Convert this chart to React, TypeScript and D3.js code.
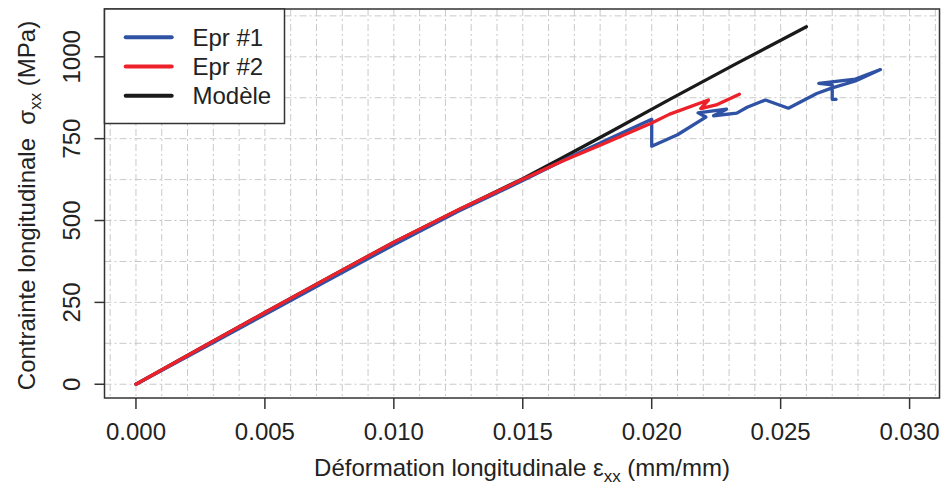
import React from "react";
import * as d3 from "d3";

// ---- Data ----
const modelStrain = [0, 0.0025, 0.005, 0.0075, 0.01, 0.0125, 0.015, 0.0165, 0.0185, 0.0207, 0.0233, 0.026];
const modelStress = [0, 110, 219, 327, 434, 532, 628, 690, 775, 870, 980, 1092];

const epr1Strain = [0, 0.0025, 0.005, 0.0075, 0.01, 0.0125, 0.015, 0.017, 0.0185, 0.02, 0.02, 0.021, 0.0221, 0.0218, 0.0229, 0.0224, 0.0233, 0.0237, 0.02441, 0.0253, 0.0264, 0.027, 0.0279, 0.02887, 0.0279, 0.02648, 0.027, 0.027, 0.02715];
const epr1Stress = [0, 106, 213, 320, 426, 528, 622, 700, 755, 809, 727, 762, 816, 829, 840, 820, 828, 846, 868, 843, 888, 905, 926, 961, 932, 919, 914, 870, 870];

const epr2Strain = [0, 0.0025, 0.005, 0.0075, 0.01, 0.0125, 0.015, 0.0165, 0.018, 0.02, 0.0207, 0.0222, 0.0219, 0.0225, 0.0234];
const epr2Stress = [0, 110, 219, 327, 434, 533, 626, 680, 730, 798, 825, 868, 842, 853, 886];

const xTicks = [0, 0.005, 0.01, 0.015, 0.02, 0.025, 0.03];
const yTicks = [0, 250, 500, 750, 1000];
const legendLabels = ["Epr #1", "Epr #2", "Modèle"];
const colors = ["#2F52A4", "#ED2129", "#1A1A1A"];

const W = 944;
const H = 486;
const FONT = "'Liberation Sans', Arial, Helvetica, sans-serif";

export default function App() {
  const left = 104.5, right = 939.5, top = 9, bottom = 398;
  const x = d3.scaleLinear().domain([-0.00122, 0.03116]).range([left, right]);
  const y = d3.scaleLinear().domain([-42, 1146]).range([bottom, top]);

  const mk = (xs: number[], ys: number[]) => xs.map((v, i) => [v, ys[i]] as [number, number]);
  const line = d3.line<[number, number]>().x((d) => x(d[0])).y((d) => y(d[1]));

  const series = [
    { pts: mk(modelStrain, modelStress), color: colors[2] },
    { pts: mk(epr1Strain, epr1Stress), color: colors[0] },
    { pts: mk(epr2Strain, epr2Stress), color: colors[1] },
  ];

  const vGrid = d3.range(-1, 32).map((i) => i * 0.001).filter((v) => x(v) > left + 1 && x(v) < right - 1);
  const hGrid = d3.range(-1, 10).map((i) => i * 125).filter((v) => y(v) > top + 1 && y(v) < bottom - 1);

  const fmtX = d3.format(".3f");
  const axisColor = "#333";

  return (
    <svg width={W} height={H} style={{ position: "absolute", left: 0, top: 0, background: "#fff" }} fontFamily={FONT}>
      <rect x={0} y={0} width={W} height={H} fill="#fff" />
      {/* grid */}
      <g stroke="#C9C9C9" strokeWidth={1} strokeDasharray="7 3 2 3">
        {vGrid.map((v, i) => (
          <line key={"v" + i} x1={x(v)} x2={x(v)} y1={top} y2={bottom} />
        ))}
        {hGrid.map((v, i) => (
          <line key={"h" + i} x1={left} x2={right} y1={y(v)} y2={y(v)} />
        ))}
      </g>
      {/* series */}
      {series.map((s, i) => (
        <path key={i} d={line(s.pts) || ""} fill="none" stroke={s.color} strokeWidth={3.3} strokeLinejoin="round" strokeLinecap="round" />
      ))}
      {/* box */}
      <rect x={left} y={top} width={right - left} height={bottom - top} fill="none" stroke={axisColor} strokeWidth={1.5} />
      {/* x axis ticks */}
      <g>
        {xTicks.map((t, i) => (
          <g key={i}>
            <line x1={x(t)} x2={x(t)} y1={bottom} y2={bottom + 11} stroke={axisColor} strokeWidth={1.5} />
            <text x={x(t)} y={440} fontSize={24} textAnchor="middle" fill="#222">
              {fmtX(t)}
            </text>
          </g>
        ))}
      </g>
      {/* y axis ticks */}
      <g>
        {yTicks.map((t, i) => (
          <g key={i}>
            <line x1={left - 10} x2={left} y1={y(t)} y2={y(t)} stroke={axisColor} strokeWidth={1.5} />
            <text transform={`translate(79.5,${y(t)}) rotate(-90)`} fontSize={24} textAnchor="middle" fill="#222">
              {t}
            </text>
          </g>
        ))}
      </g>
      {/* axis titles */}
      <text x={(left + right) / 2} y={476} fontSize={24} textAnchor="middle" fill="#222">
        Déformation longitudinale ε
        <tspan fontSize={17} dy={6}>xx</tspan>
        <tspan dy={-6}> (mm/mm)</tspan>
      </text>
      <text transform={`translate(35,${(top + bottom) / 2 + 2}) rotate(-90)`} fontSize={24} textAnchor="middle" fill="#222">
        {"Contrainte longitudinale\u00A0 σ"}
        <tspan fontSize={17} dy={6}>xx</tspan>
        <tspan dy={-6}> (MPa)</tspan>
      </text>
      {/* legend */}
      <g>
        <rect x={104.5} y={9} width={180} height={114.5} fill="#fff" stroke={axisColor} strokeWidth={1.5} />
        {legendLabels.map((l, i) => {
          const ly = 37.3 + i * 29.2;
          return (
            <g key={i}>
              <line x1={125.7} x2={171.7} y1={ly} y2={ly} stroke={colors[i]} strokeWidth={4} strokeLinecap="round" />
              <text x={192.5} y={ly + 8.6} fontSize={24} fill="#222">
                {l}
              </text>
            </g>
          );
        })}
      </g>
    </svg>
  );
}
